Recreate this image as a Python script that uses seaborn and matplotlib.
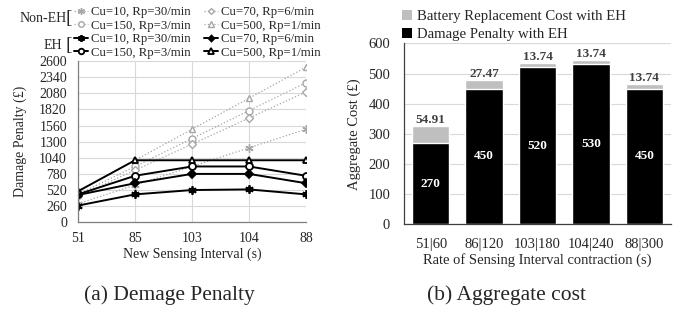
import matplotlib
matplotlib.use('Agg')
import matplotlib.pyplot as plt
from matplotlib.lines import Line2D
from matplotlib.patches import Patch
import seaborn as sns
import numpy as np
import pandas as pd

# --- data: (a) damage penalty ---
intervals = ['51', '85', '103', '104', '88']
series_names = ['Cu=10, Rp=30/min', 'Cu=150, Rp=3/min', 'Cu=70, Rp=6/min', 'Cu=500, Rp=1/min']
non_eh_cu10 = [300, 600, 900, 1200, 1500]
non_eh_cu150 = [450, 900, 1350, 1800, 2250]
non_eh_cu70 = [420, 840, 1260, 1680, 2100]
non_eh_cu500 = [500, 1000, 1500, 2000, 2500]
eh_cu10 = [270, 450, 520, 530, 450]
eh_cu150 = [450, 750, 900, 900, 750]
eh_cu70 = [440, 630, 780, 780, 630]
eh_cu500 = [500, 1000, 1000, 1000, 1000]

# --- data: (b) aggregate cost ---
rates = ['51|60', '86|120', '103|180', '104|240', '88|300']
damage_eh = [270, 450, 520, 530, 450]
battery_eh = [54.91, 27.47, 13.74, 13.74, 13.74]

# --- style ---
sns.set_theme(style="whitegrid")
plt.rcParams['font.family'] = 'Liberation Serif'

GRAY = '#A6A6A6'
markers = [(6, 2, 0), 'o', 'D', '^']
msizes = [6, 5, 4, 5]

fig = plt.figure(figsize=(6.85, 3.12), dpi=100)
ax1 = fig.add_axes([0.1139, 0.2875, 0.3328, 0.517])
ax2 = fig.add_axes([0.5898, 0.281, 0.3898, 0.580])

# ---------- (a) ----------
x_pos = np.arange(len(intervals))
non_eh = [non_eh_cu10, non_eh_cu150, non_eh_cu70, non_eh_cu500]
eh = [eh_cu10, eh_cu150, eh_cu70, eh_cu500]

non_eh_handles = []
eh_handles = []
for vals, mk, ms in zip(non_eh, markers, msizes):
    sns.lineplot(x=x_pos, y=vals, ax=ax1, color=GRAY, linestyle=':', linewidth=0.9,
                 marker=mk, markersize=ms, markerfacecolor='white',
                 markeredgecolor=GRAY, markeredgewidth=1.0)
    non_eh_handles.append(Line2D([], [], color=GRAY, linestyle=':', linewidth=0.9, marker=mk,
                                 markersize=ms - 1, markerfacecolor='white',
                                 markeredgecolor=GRAY, markeredgewidth=1.0))
for vals, mk, ms in zip(eh, markers, msizes):
    face = 'black' if mk == 'D' else 'white'
    sns.lineplot(x=x_pos, y=vals, ax=ax1, color='black', linewidth=1.4,
                 marker=mk, markersize=ms, markerfacecolor=face,
                 markeredgecolor='black', markeredgewidth=1.3)
    eh_handles.append(Line2D([], [], color='black', linewidth=1.4, marker=mk,
                             markersize=ms - 1, markerfacecolor=face,
                             markeredgecolor='black', markeredgewidth=1.3))

ax1.set_xlim(0, 4)
ax1.set_ylim(0, 2600)
ax1.set_xticks(x_pos)
ax1.set_xticklabels(intervals)
ax1.set_yticks(np.arange(0, 2601, 260))
ax1.tick_params(axis='both', labelsize=10, length=0)
ax1.tick_params(axis='y', pad=8)
ax1.tick_params(axis='x', pad=7)
ax1.grid(True, color='#D9D9D9', linewidth=0.8)
for s in ['top', 'right']:
    ax1.spines[s].set_visible(False)
for s in ['left', 'bottom']:
    ax1.spines[s].set_color('#7F7F7F')
    ax1.spines[s].set_linewidth(0.9)
ax1.set_xlabel('New Sensing Interval (s)', fontsize=10, labelpad=2)
ax1.set_ylabel('Damage Penalty (£)', fontsize=10, labelpad=9)

leg_kw = dict(ncol=2, frameon=False, fontsize=9.2, handlelength=1.1, handletextpad=0.2,
              columnspacing=1.1, labelspacing=0.12, borderpad=0, borderaxespad=0,
              loc='upper left')
fig.legend(non_eh_handles, series_names, bbox_to_anchor=(0.108, 0.98), **leg_kw)
fig.legend(eh_handles, series_names, bbox_to_anchor=(0.108, 0.894), **leg_kw)

fig.text(0.029, 0.942, 'Non-EH', fontsize=10, va='center', ha='left')
fig.text(0.096, 0.942, '[', fontsize=14, va='center', ha='left')
fig.text(0.063, 0.855, 'EH', fontsize=10, va='center', ha='left')
fig.text(0.096, 0.855, '[', fontsize=14, va='center', ha='left')

# ---------- (b) ----------
df = pd.DataFrame({'rate': rates, 'damage': damage_eh, 'battery': battery_eh})
df['total'] = df['damage'] + df['battery']
sns.barplot(data=df, x='rate', y='total', ax=ax2, color='#BFBFBF', width=0.7, saturation=1)
sns.barplot(data=df, x='rate', y='damage', ax=ax2, color='black', width=0.7, saturation=1)

for i, row in df.iterrows():
    ax2.text(i, row['total'] + 2, f"{row['battery']:.2f}", ha='center', va='bottom',
             fontsize=9.5, fontweight='bold', color='#404040')
    ax2.text(i, row['damage'] / 2, f"{row['damage']:.0f}", ha='center', va='center',
             fontsize=9.5, fontweight='bold', color='white')

ax2.set_xlim(-0.5, 4.5)
ax2.set_ylim(0, 600)
ax2.set_yticks(np.arange(0, 601, 100))
ax2.grid(True, axis='y', color='#D9D9D9', linewidth=0.8)
ax2.grid(False, axis='x')
for s in ['top', 'right']:
    ax2.spines[s].set_visible(False)
for s in ['left', 'bottom']:
    ax2.spines[s].set_color('#404040')
    ax2.spines[s].set_linewidth(0.9)
ax2.tick_params(axis='both', labelsize=10.5, length=0)
ax2.tick_params(axis='y', pad=10)
ax2.tick_params(axis='x', pad=10)
ax2.set_xlabel('Rate of Sensing Interval contraction (s)', fontsize=10.5, labelpad=1)
ax2.set_ylabel('Aggregate Cost (£)', fontsize=10.5, labelpad=5)

bar_handles = [Patch(facecolor='#BFBFBF', edgecolor='none'), Patch(facecolor='black', edgecolor='none')]
fig.legend(bar_handles, ['Battery Replacement Cost with EH', 'Damage Penalty with EH'],
           loc='upper left', bbox_to_anchor=(0.587, 0.968), frameon=False, fontsize=10.6,
           handlelength=0.7, handleheight=0.7, handletextpad=0.3, labelspacing=0.3,
           borderpad=0, borderaxespad=0)

# captions
fig.text(0.247, 0.054, '(a) Demage Penalty', fontsize=15.5, ha='center', va='center')
fig.text(0.739, 0.054, '(b) Aggregate cost', fontsize=15.5, ha='center', va='center')

fig.savefig('out.png', dpi=100)
